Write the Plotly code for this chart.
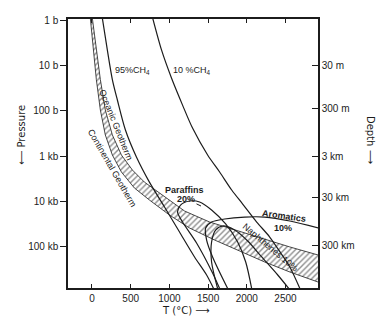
import plotly.graph_objects as go

# ---------------- data (T in degC, P in bar) ----------------
band_upper_T = [4, 56, 108, 172, 263, 380, 522, 677, 937, 1196, 1520, 1843, 2167, 2556, 2930]
band_upper_P = [0.85, 4.4, 20, 95, 340, 950, 2050, 3800, 8100, 16700, 29300, 44100, 66400, 105000, 160000]
band_lower_T = [-22, 17, 56, 108, 172, 263, 380, 548, 742, 1001, 1260, 1584, 1908, 2232, 2556, 2930]
band_lower_P = [0.85, 4.4, 20, 95, 340, 950, 2270, 5140, 9500, 20500, 39800, 73600, 129000, 227000, 378000, 640000]

ch4_95_T = [133, 198, 263, 328, 432, 574, 742, 937, 1131, 1325, 1481, 1571]
ch4_95_P = [0.85, 4.4, 20, 57, 264, 1050, 3800, 13600, 48900, 175000, 441000, 880000]

ch4_10_T = [783, 898, 1027, 1170, 1299, 1494, 1649, 1805, 1947, 2128, 2296, 2439, 2556, 2686]
ch4_10_P = [0.85, 4.4, 18.5, 74, 240, 950, 2270, 5700, 11700, 29300, 63100, 143000, 293000, 880000]

paraffins_T = [1649, 1558, 1351, 1170, 1105, 1144, 1260, 1390, 1545, 1727, 1882, 1986, 2063]
paraffins_P = [880000, 398000, 85800, 29300, 17500, 12300, 10000, 10500, 15800, 32400, 81500, 227000, 880000]

aromatics_T = [1753, 1558, 1481, 1468, 1545, 1714, 1973, 2232, 2556, 2930]
aromatics_P = [880000, 175000, 73600, 39800, 29300, 25100, 22700, 22700, 27800, 39800]

naphthenes_T = [1623, 1545, 1545, 1597, 1688, 1843, 2012, 2193, 2400, 2543]
naphthenes_P = [880000, 227000, 81500, 44100, 35900, 44100, 77400, 175000, 441000, 880000]

T_ticks = [0, 500, 1000, 1500, 2000, 2500]
P_ticks = [1, 10, 100, 1000, 10000, 100000]
P_labels = ["1 b", "10 b", "100 b", "1 kb", "10 kb", "100 kb"]
depth_tick_P = [10, 90, 1000, 8500, 95000]
depth_labels = ["30 m", "300 m", "3 km", "30 km", "300 km"]

# ---------------- figure ----------------
INK = "#1c1c1c"
FONT = "Liberation Sans"
L, R, T, B = 68, 318, 19, 288
W, H = 389, 324


def pp(px, py):
    return (px - L) / (R - L), (B - py) / (B - T)


fig = go.Figure()

# hatched band between the geotherms
fig.add_trace(go.Scatter(
    x=band_upper_T + band_lower_T[::-1],
    y=band_upper_P + band_lower_P[::-1],
    mode="lines", fill="toself", fillcolor="rgba(255,255,255,0)",
    fillpattern=dict(shape="/", fgcolor=INK, bgcolor="white", size=4, solidity=0.35),
    line=dict(color=INK, width=0.8), hoverinfo="skip"))

for xs, ys in [(ch4_95_T, ch4_95_P), (ch4_10_T, ch4_10_P), (paraffins_T, paraffins_P),
               (aromatics_T, aromatics_P), (naphthenes_T, naphthenes_P)]:
    fig.add_trace(go.Scatter(x=xs, y=ys, mode="lines",
                             line=dict(color=INK, width=1.2, shape="spline", smoothing=0.8),
                             hoverinfo="skip"))

# invisible trace for right (depth) axis
fig.add_trace(go.Scatter(x=[1000], y=[1000], yaxis="y2", mode="markers", marker=dict(opacity=0),
                         hoverinfo="skip"))

fig.update_layout(
    width=W, height=H, margin=dict(l=L, r=W - R, t=T, b=H - B),
    plot_bgcolor="white", paper_bgcolor="white", showlegend=False,
    font=dict(family=FONT, size=10, color=INK),
    xaxis=dict(range=[-310, 2920], tickvals=T_ticks, ticks="inside", ticklen=4, tickcolor=INK,
               showline=True, linecolor=INK, linewidth=1.5, mirror="ticks", showgrid=False, zeroline=False,
               tickfont=dict(size=10, family=FONT, color=INK)),
    yaxis=dict(type="log", range=[5.933, -0.044], tickvals=P_ticks, ticktext=P_labels, ticks="outside",
               ticklen=6, tickcolor=INK, showline=True, linecolor=INK, linewidth=1.5, showgrid=False,
               zeroline=False, tickfont=dict(size=10, family=FONT, color=INK)),
    yaxis2=dict(type="log", range=[5.933, -0.044], overlaying="y", side="right", tickvals=depth_tick_P,
                ticktext=depth_labels, ticks="inside", ticklen=6, tickcolor=INK, showline=True, linecolor=INK,
                linewidth=1.5, showgrid=False, zeroline=False, tickfont=dict(size=10, family=FONT, color=INK)),
)


def label(text, px, py, size=9, angle=0, family=FONT):
    x, y = pp(px, py)
    fig.add_annotation(x=x, y=y, xref="paper", yref="paper", text=text, showarrow=False,
                       textangle=angle, font=dict(size=size, family=family, color=INK),
                       xanchor="center", yanchor="middle")


label("95%CH<sub>4</sub>", 132, 71)
label("10 %CH<sub>4</sub>", 192, 71)
label("Oceanic Geotherm", 116, 125, size=9, angle=68)
label("Continental Geotherm", 112, 168, size=9, angle=60)
label("<b>Paraffins</b>", 184, 190)
# "20%" with a small leader down to the paraffins curve
xa, ya = pp(201, 206)
fig.add_annotation(x=xa, y=ya, xref="paper", yref="paper", text="<b>20%</b>", showarrow=True,
                   arrowhead=0, arrowwidth=1, arrowcolor=INK, ax=-15, ay=-7,
                   font=dict(size=9, family=FONT, color=INK))
label("<b>Aromatics</b>", 284, 216, angle=8)
label("<b>10%</b>", 283, 228)
label("Naphthenes 10%", 270, 247, size=9, angle=40)

# axis titles with arrows
label("⟵ Pressure", 21, 135, size=10, angle=-90, family="DejaVu Sans, Liberation Sans")
label("Depth ⟶", 371, 140, size=10, angle=90, family="DejaVu Sans, Liberation Sans")
label("T (°C) ⟶", 186, 310, size=10, family="DejaVu Sans, Liberation Sans")

fig.write_html("out.html", config={"displayModeBar": False},
               post_script="document.body.style.margin='0';document.body.style.overflow='hidden';")
